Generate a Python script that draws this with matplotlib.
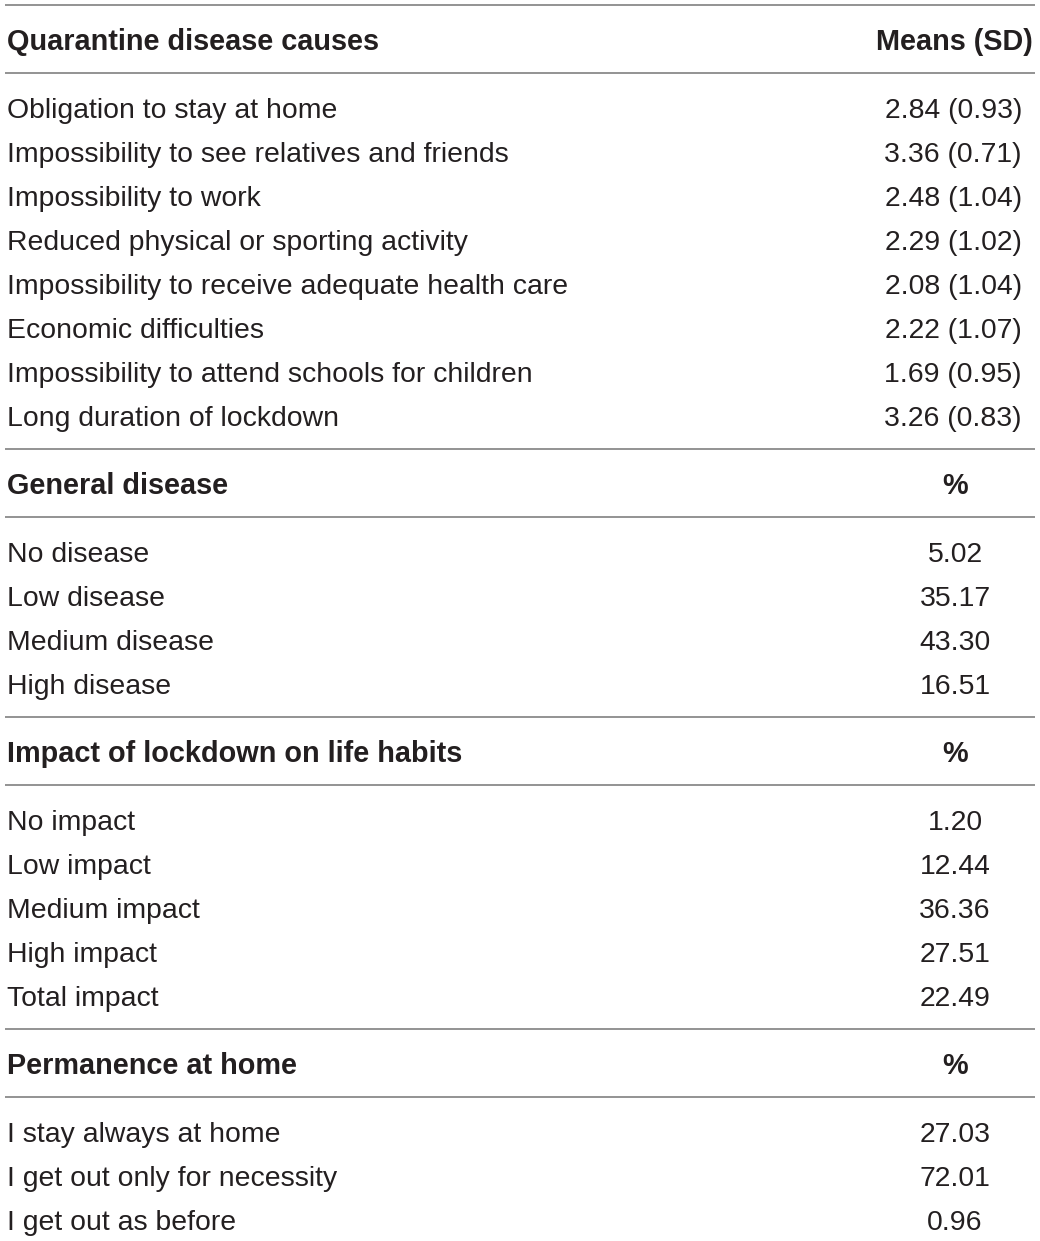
import matplotlib
matplotlib.use("Agg")
import matplotlib.pyplot as plt

plt.rcParams["font.family"] = ["Liberation Sans", "DejaVu Sans"]

# table content
headers = ["Quarantine disease causes", "General disease",
           "Impact of lockdown on life habits", "Permanence at home"]
value_heads = ["Means (SD)", "%", "%", "%"]

causes = ["Obligation to stay at home",
          "Impossibility to see relatives and friends",
          "Impossibility to work",
          "Reduced physical or sporting activity",
          "Impossibility to receive adequate health care",
          "Economic difficulties",
          "Impossibility to attend schools for children",
          "Long duration of lockdown"]
cause_means = [2.84, 3.36, 2.48, 2.29, 2.08, 2.22, 1.69, 3.26]
cause_sd = [0.93, 0.71, 1.04, 1.02, 1.04, 1.07, 0.95, 0.83]

disease = ["No disease", "Low disease", "Medium disease", "High disease"]
disease_pct = [5.02, 35.17, 43.30, 16.51]

impact = ["No impact", "Low impact", "Medium impact", "High impact", "Total impact"]
impact_pct = [1.20, 12.44, 36.36, 27.51, 22.49]

home = ["I stay always at home", "I get out only for necessity", "I get out as before"]
home_pct = [27.03, 72.01, 0.96]

sections = [
    (causes, ["%.2f (%.2f)" % (m, s) for m, s in zip(cause_means, cause_sd)]),
    (disease, ["%.2f" % v for v in disease_pct]),
    (impact, ["%.2f" % v for v in impact_pct]),
    (home, ["%.2f" % v for v in home_pct]),
]

W, H = 1040, 1241
fig = plt.figure(figsize=(W / 100, H / 100), dpi=100)
ax = fig.add_axes([0, 0, 1, 1])
ax.set_xlim(0, W)
ax.set_ylim(H, 0)
ax.axis("off")

fam = ["Liberation Sans", "DejaVu Sans"]
txt = "#231f20"
line_c = "#8a8a8a"
fs = 20.4
fs_b = 20.8
off = 9.5  # baseline below row centre

def hline(y):
    ax.plot([5, 1035], [y, y], color=line_c, lw=1.3, solid_capstyle="butt")

def put(x, y, s, ha, bold=False):
    t = ax.text(x, y + off, s, fontsize=fs_b if bold else fs, family=fam, color=txt,
                va="baseline", ha=ha, fontweight="bold" if bold else "normal")
    return t

y = 5
hline(y)
for i, (labels, vals) in enumerate(sections):
    if i > 0:
        y += 32
        hline(y)
    hy = y + 35
    put(7, hy, headers[i], "left", True)
    if i == 0:
        put(1033, hy, value_heads[i], "right", True)
    else:
        put(955, hy, value_heads[i], "center", True)
    y = hy + 33
    hline(y)
    y += 36
    for k, (lab, v) in enumerate(zip(labels, vals)):
        if k > 0:
            y += 44
        put(7, y, lab, "left")
        if i == 0:
            put(1022, y, v, "right")
        else:
            put(955, y, v, "center")

fig.savefig("out.png", dpi=100)
